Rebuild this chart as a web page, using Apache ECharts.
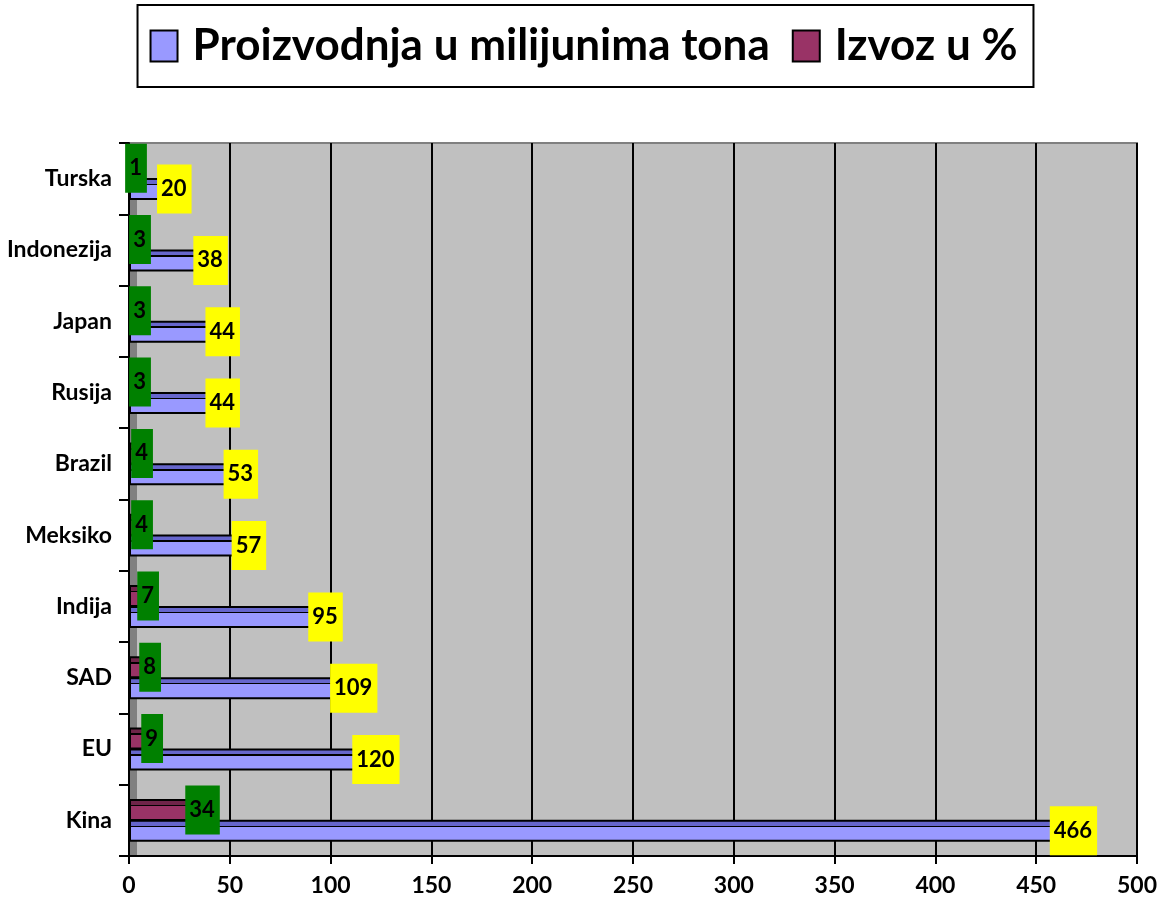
<!DOCTYPE html>
<html><head><meta charset="utf-8">
<script src="https://cdn.jsdelivr.net/npm/echarts@6/dist/echarts.min.js"></script>
<style>html,body{margin:0;padding:0;background:#fff}#c{width:1167px;height:904px}</style>
</head><body><div id="c"></div>
<script>
const categories = ['Kina','EU','SAD','Indija','Meksiko','Brazil','Rusija','Japan','Indonezija','Turska'];
const proizvodnja = [466,120,109,95,57,53,44,44,38,20];
const izvoz = [34,9,8,7,4,4,3,3,3,1];
const xTicks = [0,50,100,150,200,250,300,350,400,450,500];
const seriesNames = ['Proizvodnja u milijunima tona','Izvoz u %'];

const FONT = 'Lato';
const chart = echarts.init(document.getElementById('c'));
function lbl(bg){
  return {show:true, position:['100%','50%'], align:'center', verticalAlign:'middle', offset:[5,0],
    backgroundColor:bg, padding:[14,5,13,4], lineHeight:22, color:'#000', fontFamily:FONT, fontWeight:'bold', fontSize:22};
}
function face(top, front){
  return {type:'linear', x:0, y:0, x2:0, y2:1, colorStops:[
    {offset:0, color:top},{offset:0.26, color:top},{offset:0.26, color:'#000'},{offset:0.33, color:'#000'},
    {offset:0.33, color:front},{offset:1, color:front}]};
}
chart.setOption({
  animation:false,
  legend:{top:5, left:'center', icon:'rect', itemWidth:27, itemHeight:31, itemGap:22,
    padding:[19,16,19,12], borderColor:'#000', borderWidth:2, backgroundColor:'#fff',
    itemStyle:{borderColor:'#000', borderWidth:2},
    textStyle:{fontFamily:FONT, fontWeight:'bold', fontSize:44, color:'#000', padding:[0,0,0,10]},
    data:[{name:seriesNames[0], itemStyle:{color:'#9999ff'}},{name:seriesNames[1], itemStyle:{color:'#993366'}}]},
  grid:{left:129, right:30, top:143, bottom:48, show:true, backgroundColor:'#c0c0c0', borderColor:'#808080', borderWidth:2},
  xAxis:{type:'value', min:xTicks[0], max:xTicks[xTicks.length-1], interval:50,
    axisLine:{show:true, lineStyle:{color:'#000', width:2}},
    axisTick:{show:true, length:8, lineStyle:{color:'#000', width:2}},
    splitLine:{show:true, lineStyle:{color:'#000', width:2}},
    axisLabel:{color:'#000', fontFamily:FONT, fontWeight:'bold', fontSize:23, margin:18}},
  yAxis:{type:'category', data:categories,
    axisLine:{show:true, lineStyle:{color:'#000', width:2}},
    axisTick:{show:true, length:10, lineStyle:{color:'#000', width:2}},
    axisLabel:{color:'#000', fontFamily:FONT, fontWeight:'bold', fontSize:23, margin:17}},
  series:[
    {name:seriesNames[1], type:'bar', data:izvoz, barWidth:22, barGap:'-5%',
      itemStyle:{color:face('#6e2449','#993366'), borderColor:'#000', borderWidth:2}, label:lbl('#008000'), z:3},
    {name:seriesNames[0], type:'bar', data:proizvodnja, barWidth:22,
      itemStyle:{color:face('#6666cc','#9999ff'), borderColor:'#000', borderWidth:2}, label:lbl('#ffff00'), z:2}
  ]
});
// darker left side wall of the 3D plot box
const p0 = chart.convertToPixel({gridIndex:0}, [0, categories[0]]);
const g = chart.getModel().getComponent('grid',0).coordinateSystem.getRect();
chart.setOption({graphic:[{type:'rect', shape:{x:g.x+1, y:g.y+1, width:7, height:g.height-2}, style:{fill:'#808080'}, z:0, silent:true}]});
</script></body></html>
